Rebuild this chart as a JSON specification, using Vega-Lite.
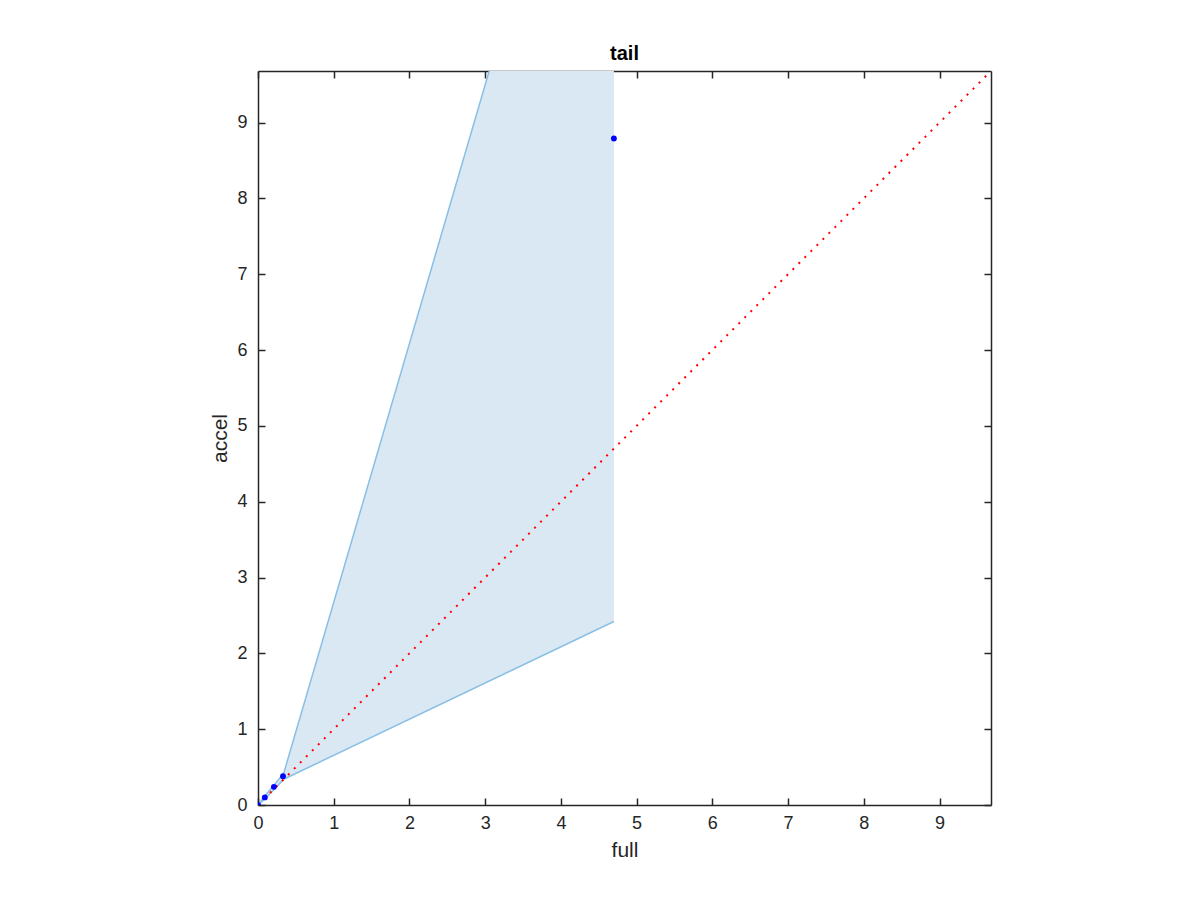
{
  "$schema": "https://vega.github.io/schema/vega-lite/v6.json",
  "width": 733,
  "height": 734,
  "autosize": {"type": "none"},
  "padding": {"left": 258, "top": 71, "right": 209, "bottom": 95},
  "background": "white",
  "title": {"text": "tail", "fontSize": 20, "fontWeight": "bold", "font": "Liberation Sans", "color": "#000000", "offset": 6},
  "config": {
    "view": {"stroke": null},
    "axis": {"grid": false, "domainColor": "#262626", "domainWidth": 1.5, "tickColor": "#262626", "tickWidth": 1.5, "tickSize": -7, "labelFlush": false, "labelFont": "Liberation Sans", "labelFontSize": 18, "labelColor": "#262626", "titleFont": "Liberation Sans", "titleFontSize": 21, "titleColor": "#262626", "titleFontWeight": "normal"}
  },
  "datasets": {
    "band": [
      {"full": 0, "lo": 0, "hi": 0},
      {"full": 0.09, "lo": 0.08, "hi": 0.12},
      {"full": 0.21, "lo": 0.2, "hi": 0.26},
      {"full": 0.34, "lo": 0.34, "hi": 0.42},
      {"full": 4.7, "lo": 2.42, "hi": 15.3}
    ],
    "pts": [
      {"full": 0, "accel": 0},
      {"full": 0.09, "accel": 0.1},
      {"full": 0.21, "accel": 0.24},
      {"full": 0.33, "accel": 0.38},
      {"full": 4.7, "accel": 8.79}
    ],
    "diag": [
      {"full": 0, "accel": 0},
      {"full": 9.68, "accel": 9.68}
    ]
  },
  "layer": [
    {
      "data": {"name": "band"},
      "mark": {"type": "area", "clip": true, "color": "#dae8f4", "opacity": 1},
      "encoding": {
        "x": {"field": "full", "type": "quantitative", "scale": {"domain": [0, 9.68], "nice": false, "zero": false}, "axis": {"title": "full", "values": [0,1,2,3,4,5,6,7,8,9], "labelPadding": 16, "titlePadding": 7}},
        "y": {"field": "hi", "type": "quantitative", "scale": {"domain": [0, 9.68], "nice": false, "zero": false}, "axis": {"title": "accel", "values": [0,1,2,3,4,5,6,7,8,9], "labelPadding": 18, "titlePadding": 6}},
        "y2": {"field": "lo"}
      }
    },
    {
      "data": {"name": "band"},
      "mark": {"type": "line", "clip": true, "color": "#88bfe4", "strokeWidth": 1.5},
      "encoding": {
        "x": {"field": "full", "type": "quantitative", "axis": {"orient": "top", "labels": false, "title": null, "values": [0,1,2,3,4,5,6,7,8,9]}},
        "y": {"field": "hi", "type": "quantitative", "axis": {"orient": "right", "labels": false, "title": null, "values": [0,1,2,3,4,5,6,7,8,9]}}
      }
    },
    {
      "data": {"name": "band"},
      "mark": {"type": "line", "clip": true, "color": "#88bfe4", "strokeWidth": 1.5},
      "encoding": {
        "x": {"field": "full", "type": "quantitative", "axis": null},
        "y": {"field": "lo", "type": "quantitative", "axis": null}
      }
    },
    {
      "data": {"name": "diag"},
      "mark": {"type": "line", "clip": true, "color": "#ff0000", "strokeWidth": 2, "strokeDash": [2, 6.5]},
      "encoding": {
        "x": {"field": "full", "type": "quantitative", "axis": null},
        "y": {"field": "accel", "type": "quantitative", "axis": null}
      }
    },
    {
      "data": {"name": "pts"},
      "mark": {"type": "point", "filled": true, "clip": true, "color": "#0000ff", "size": 34, "opacity": 1},
      "encoding": {
        "x": {"field": "full", "type": "quantitative", "axis": null},
        "y": {"field": "accel", "type": "quantitative", "axis": null}
      }
    }
  ],
  "resolve": {"axis": {"x": "independent", "y": "independent"}}
}
